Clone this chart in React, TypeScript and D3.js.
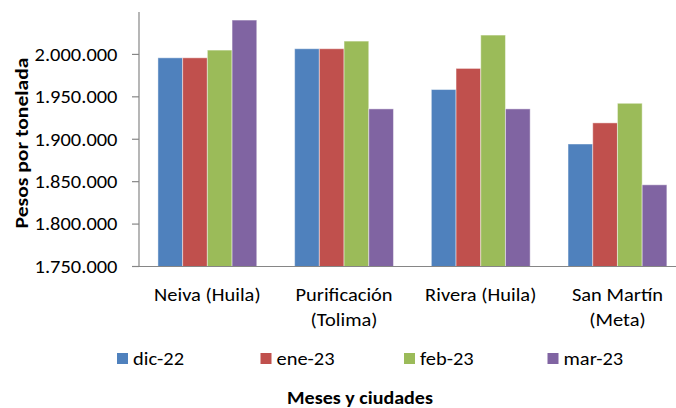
import React from "react";
import * as d3 from "d3";

const categories = [["Neiva (Huila)"], ["Purificación", "(Tolima)"], ["Rivera (Huila)"], ["San Martín", "(Meta)"]];
const seriesNames = ["dic-22", "ene-23", "feb-23", "mar-23"];
const seriesColors = ["#4F81BD", "#C0504D", "#9BBB59", "#8064A2"];
const dic22 = [1996000, 2006700, 1958600, 1894400];
const ene23 = [1996000, 2006700, 1983500, 1919300];
const feb23 = [2005100, 2015700, 2022800, 1942400];
const mar23 = [2040500, 1935800, 1935800, 1846300];
const seriesValues = [dic22, ene23, feb23, mar23];
const yTicks = [1750000, 1800000, 1850000, 1900000, 1950000, 2000000];
const yTitle = "Pesos por tonelada";
const xTitle = "Meses y ciudades";

const W = 676;
const H = 408;
const FONT = "Carlito, Calibri, Lato, sans-serif";
const SX = 1.17;

function T(props: {
  x: number;
  y: number;
  sx?: number;
  rotate?: number;
  anchor?: string;
  size: number;
  bold?: boolean;
  dy?: string;
  children: React.ReactNode;
}) {
  const { x, y, sx = SX, rotate = 0, anchor = "start", size, bold, dy, children } = props;
  return (
    <g transform={`translate(${x},${y}) rotate(${rotate}) scale(${sx},1)`}>
      <text textAnchor={anchor} fontSize={size} fontWeight={bold ? "bold" : "normal"} dy={dy} fill="#000">
        {children}
      </text>
    </g>
  );
}

export default function App() {
  const left = 139;
  const right = 685.8;
  const top = 12;
  const bottom = 266.5;
  const y = d3.scaleLinear().domain([1750000, 2050000]).range([bottom, top]);
  const catKeys = categories.map((c) => c.join(" "));
  const x0 = d3.scaleBand().domain(catKeys).range([left, right]).paddingInner(0.277).paddingOuter(0.1385);
  const x1 = d3.scaleBand().domain(seriesNames).range([0, x0.bandwidth()]).padding(0);
  const fmt = d3.formatLocale({ decimal: ",", thousands: ".", grouping: [3], currency: ["$", ""] }).format(",.0f");
  const legendX = d3.scalePoint().domain(seriesNames).range([117, 547.5]);

  return (
    <svg width={W} height={H} style={{ position: "absolute", left: 0, top: 0, background: "#fff" }} fontFamily={FONT}>
      <rect width={W} height={H} fill="#fff" />
      {seriesNames.map((s, si) =>
        catKeys.map((c, ci) => {
          const v = seriesValues[si][ci];
          const bx = (x0(c) as number) + (x1(s) as number);
          return (
            <rect
              key={s + c}
              x={bx}
              y={y(v)}
              width={x1.bandwidth()}
              height={bottom - y(v)}
              fill={seriesColors[si]}
              stroke="#fff"
              strokeOpacity={0.45}
              strokeWidth={1}
            />
          );
        })
      )}
      <line x1={left} x2={W} y1={bottom} y2={bottom} stroke="#868686" strokeWidth={1.2} />
      <line x1={left} x2={left} y1={top} y2={bottom} stroke="#868686" strokeWidth={1.2} />
      {yTicks.map((t) => (
        <g key={t}>
          <line x1={left - 7} x2={left} y1={y(t)} y2={y(t)} stroke="#868686" strokeWidth={1.2} />
          <T x={117.5} y={y(t)} anchor="end" size={17.5} dy="0.36em">
            {fmt(t)}
          </T>
        </g>
      ))}
      {categories.map((lines, ci) =>
        lines.map((l, li) => (
          <T
            key={ci + "-" + li}
            x={(x0(catKeys[ci]) as number) + x0.bandwidth() / 2}
            y={301 + li * 25}
            anchor="middle"
            size={17.5}
          >
            {l}
          </T>
        ))
      )}
      {seriesNames.map((s, si) => (
        <g key={s}>
          <rect x={legendX(s)} y={353} width={11} height={11} fill={seriesColors[si]} />
          <T x={(legendX(s) as number) + 16} y={359} dy="0.36em" size={17.5}>
            {s}
          </T>
        </g>
      ))}
      <T x={22} y={143} rotate={-90} sx={1.27} anchor="middle" dy="0.36em" size={17} bold>
        {yTitle}
      </T>
      <T x={360} y={403.5} sx={1.18} anchor="middle" size={17} bold>
        {xTitle}
      </T>
    </svg>
  );
}
